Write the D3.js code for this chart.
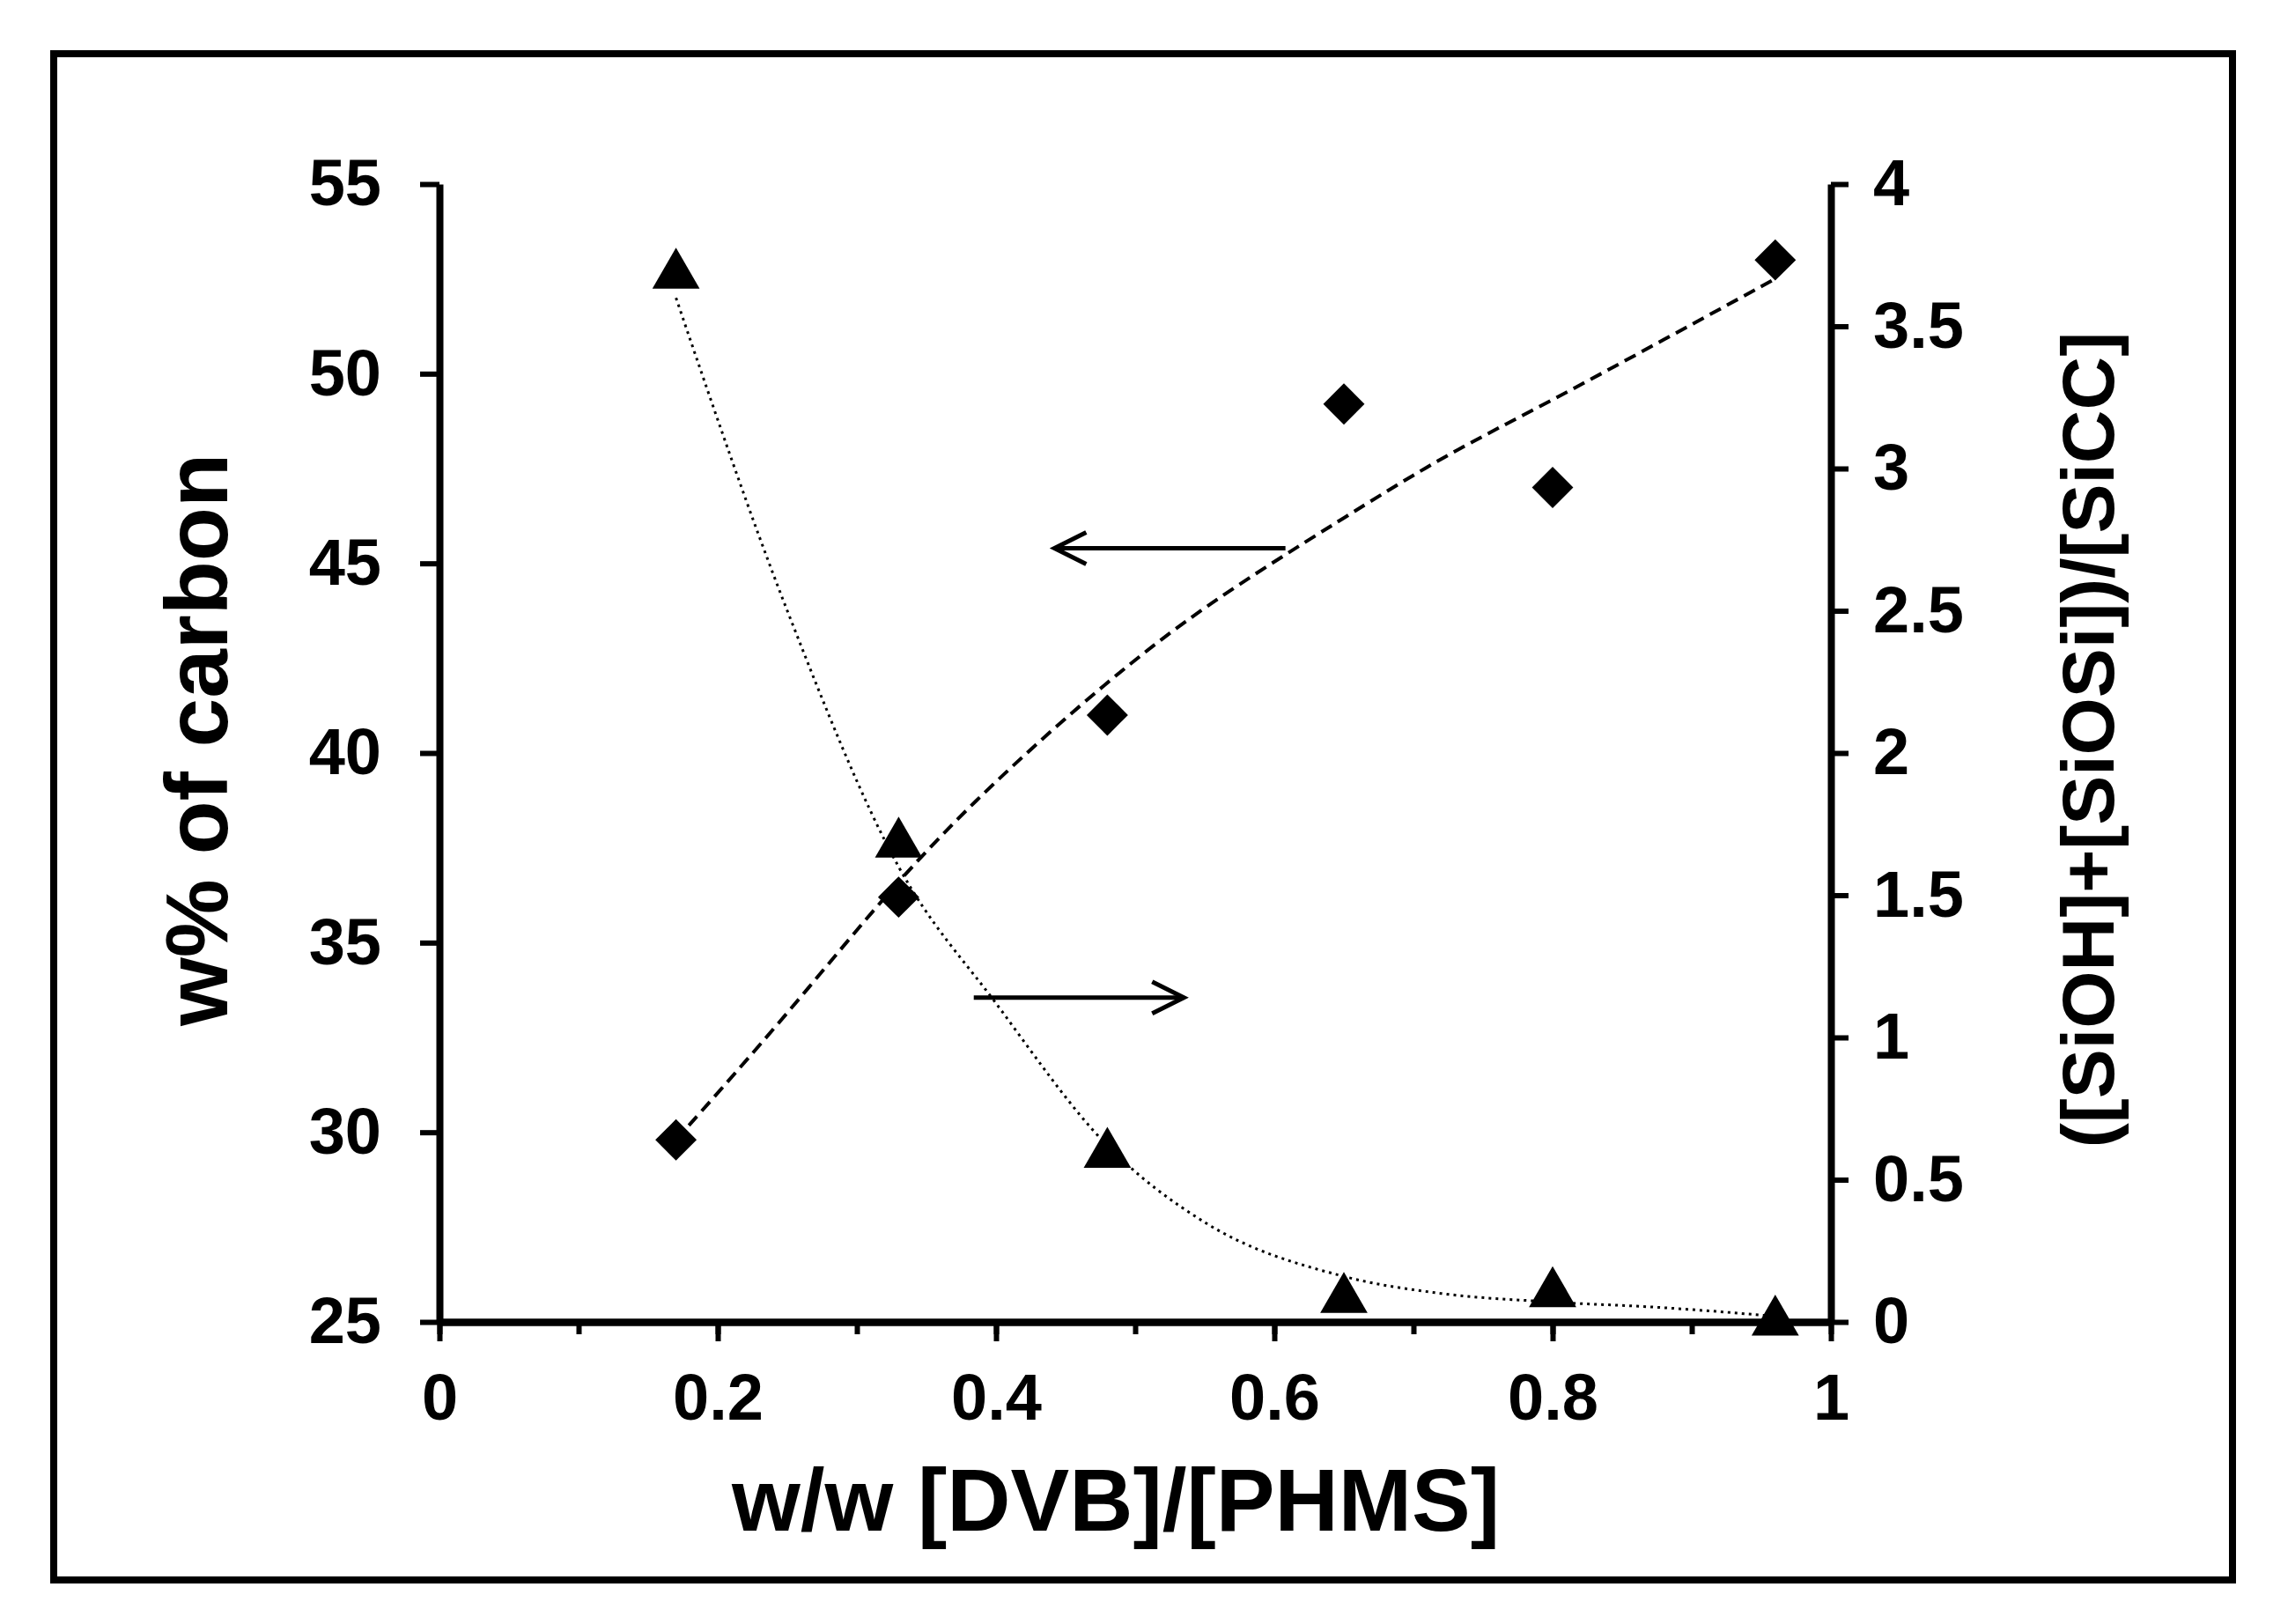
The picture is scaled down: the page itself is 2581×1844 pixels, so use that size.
<!DOCTYPE html><html><head><meta charset="utf-8">
<script src="https://cdn.jsdelivr.net/npm/d3@7"></script>
<style>body{margin:0;background:#fff}</style></head><body>
<script>
const xVals=[0.17,0.33,0.48,0.65,0.8,0.96];
const carbon=[29.8,36.2,41.0,49.2,47.0,53.0];
const ratio=[3.68,1.68,0.59,0.08,0.1,0.0];
const trendX=[0.17,0.25,0.33,0.4,0.48,0.55,0.65,0.72,0.8,0.88,0.96];
const carbonTrend=[29.8,33.1,36.7,39.3,41.9,43.9,46.2,47.8,49.3,50.9,52.5];
const ratioTrend=[3.6,2.5,1.6,1.12,0.62,0.35,0.16,0.1,0.07,0.05,0.02];
const xTicks=[0,0.2,0.4,0.6,0.8,1];
const yLeftTicks=[25,30,35,40,45,50,55];
const yRightTicks=[0,0.5,1,1.5,2,2.5,3,3.5,4];
const W=2581,H=1844;
const svg=d3.select("body").append("svg").attr("width",W).attr("height",H);
svg.append("rect").attr("x",61).attr("y",61).attr("width",2474).attr("height",1733).attr("fill","none").attr("stroke","#000").attr("stroke-width",8);
const x=d3.scaleLinear().domain([0,1]).range([499,2079]);
const yL=d3.scaleLinear().domain([25,55]).range([1501,209]);
const yR=d3.scaleLinear().domain([0,4]).range([1501,209]);
const font="'Liberation Sans',Arial,sans-serif";
function style(g){g.select(".domain").attr("stroke-width",8);g.selectAll(".tick line").attr("stroke-width",6);
 g.selectAll("text").attr("font-family",font).attr("font-weight","bold").attr("font-size",74).attr("fill","#000");}
const gx=svg.append("g").attr("transform","translate(0,1501)").call(d3.axisBottom(x).tickValues(d3.range(0,1.01,0.1)).tickSize(14).tickSizeOuter(0).tickFormat(""));
gx.select(".domain").attr("stroke-width",8);gx.selectAll(".tick line").attr("stroke-width",6);
const gx2=svg.append("g").attr("transform","translate(0,1501)").call(d3.axisBottom(x).tickValues(xTicks).tickSize(22).tickPadding(36).tickSizeOuter(0).tickFormat(d3.format("")));
style(gx2);
const gl=svg.append("g").attr("transform","translate(499,0)").call(d3.axisLeft(yL).tickValues(yLeftTicks).tickSize(22).tickPadding(44).tickSizeOuter(0));
style(gl);
const gr=svg.append("g").attr("transform","translate(2079,0)").call(d3.axisRight(yR).tickValues(yRightTicks).tickSize(20).tickPadding(28).tickSizeOuter(0).tickFormat(d3.format("")));
style(gr);
svg.append("path").datum(trendX.map((v,i)=>[v,carbonTrend[i]])).attr("fill","none").attr("stroke","#000").attr("stroke-width",4).attr("stroke-dasharray","14,8")
 .attr("d",d3.line().x(d=>x(d[0])).y(d=>yL(d[1])).curve(d3.curveBasis));
svg.append("path").datum(trendX.map((v,i)=>[v,ratioTrend[i]])).attr("fill","none").attr("stroke","#000").attr("stroke-width",3).attr("stroke-dasharray","3,5")
 .attr("d",d3.line().x(d=>x(d[0])).y(d=>yR(d[1])).curve(d3.curveMonotoneX));
svg.selectAll(".dia").data(xVals).enter().append("path").attr("d",d3.symbol(d3.symbolSquare,1100)).attr("fill","#000")
 .attr("transform",(d,i)=>`translate(${x(d)},${yL(carbon[i])}) rotate(45)`);
svg.selectAll(".tri").data(xVals).enter().append("path").attr("d",d3.symbol(d3.symbolTriangle,1250)).attr("fill","#000")
 .attr("transform",(d,i)=>`translate(${x(d)},${yR(ratio[i])})`);
function arrow(x1,x2,yy,dir){
 svg.append("line").attr("x1",x1).attr("x2",x2).attr("y1",yy).attr("y2",yy).attr("stroke","#000").attr("stroke-width",5);
 svg.append("path").attr("d",`M${x2-dir*36},${yy-18}L${x2},${yy}L${x2-dir*36},${yy+18}`).attr("fill","none").attr("stroke","#000").attr("stroke-width",5);
}
arrow(x(0.608),x(0.442),yL(45.4),-1);
arrow(x(0.384),x(0.535),yR(1.14),1);
svg.append("text").attr("x",1267).attr("y",1738).attr("text-anchor","middle").attr("font-family",font).attr("font-weight","bold").attr("font-size",100).text("w/w [DVB]/[PHMS]");
svg.append("text").attr("transform","translate(258,840) rotate(-90)").attr("text-anchor","middle").attr("font-family",font).attr("font-weight","bold").attr("font-size",100).text("w% of carbon");
svg.append("text").attr("transform","translate(2400,840) rotate(-90)").attr("text-anchor","middle").attr("font-family",font).attr("font-weight","bold").attr("font-size",84).text("([SiOH]+[SiOSi])/[SiCC]");
</script></body></html>
